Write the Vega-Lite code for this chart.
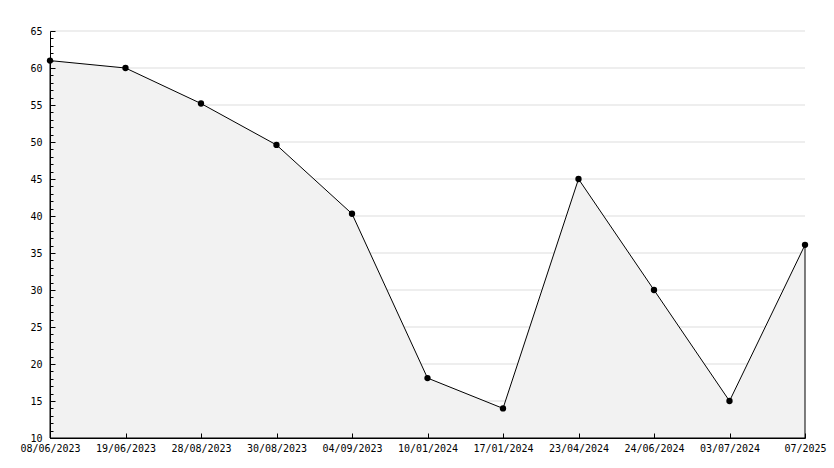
{
  "$schema": "https://vega.github.io/schema/vega-lite/v6.json",
  "width": 755,
  "height": 407,
  "autosize": "none",
  "padding": {"left": 50, "top": 31, "right": 29, "bottom": 30},
  "background": "white",
  "datasets": {
    "series": [
      {"date": "08/06/2023", "value": 61},
      {"date": "19/06/2023", "value": 60},
      {"date": "28/08/2023", "value": 55.2},
      {"date": "30/08/2023", "value": 49.6},
      {"date": "04/09/2023", "value": 40.3},
      {"date": "10/01/2024", "value": 18.1},
      {"date": "17/01/2024", "value": 14},
      {"date": "23/04/2024", "value": 45},
      {"date": "24/06/2024", "value": 30},
      {"date": "03/07/2024", "value": 15},
      {"date": "07/2025", "value": 36.1}
    ],
    "gridlines": [
      {"value": 15}, {"value": 20}, {"value": 25}, {"value": 30}, {"value": 35},
      {"value": 40}, {"value": 45}, {"value": 50}, {"value": 55}, {"value": 60}, {"value": 65}
    ]
  },
  "config": {
    "view": {"stroke": null},
    "axis": {
      "labelFont": "DejaVu Sans Mono",
      "labelFontSize": 10,
      "labelColor": "black",
      "domainColor": "black",
      "tickColor": "black",
      "title": null,
      "grid": false
    }
  },
  "encoding": {
    "y": {
      "field": "value",
      "type": "quantitative",
      "scale": {"domain": [10, 65], "nice": false, "zero": false},
      "axis": {
        "values": [10,11,12,13,14,15,16,17,18,19,20,21,22,23,24,25,26,27,28,29,30,31,32,33,34,35,36,37,38,39,40,41,42,43,44,45,46,47,48,49,50,51,52,53,54,55,56,57,58,59,60,61,62,63,64,65],
        "labelExpr": "datum.value % 5 === 0 ? datum.label : ''",
        "labelOverlap": false,
        "tickSize": {"condition": {"test": "datum.value % 5 === 0", "value": -5}, "value": -3},
        "labelPadding": 13,
        "zindex": 2
      }
    }
  },
  "layer": [
    {
      "data": {"name": "gridlines"},
      "mark": {"type": "rule", "color": "#dddddd", "strokeWidth": 1},
      "encoding": {}
    },
    {
      "data": {"name": "series"},
      "mark": {"type": "area", "fill": "#f2f2f2", "opacity": 1, "fillOpacity": 1, "stroke": "black", "strokeWidth": 1},
      "encoding": {
        "x": {
          "field": "date",
          "type": "ordinal",
          "sort": null,
          "scale": {"type": "point", "padding": 0},
          "axis": {
            "labelAngle": 0,
            "tickSize": -5,
            "labelPadding": 10,
            "labelOverlap": false,
            "zindex": 2
          }
        },
        "y2": {"datum": 10}
      }
    },
    {
      "data": {"name": "series"},
      "mark": {"type": "point", "shape": "circle", "filled": true, "color": "black", "size": 40, "opacity": 1},
      "encoding": {
        "x": {"field": "date", "type": "ordinal", "sort": null}
      }
    }
  ]
}
